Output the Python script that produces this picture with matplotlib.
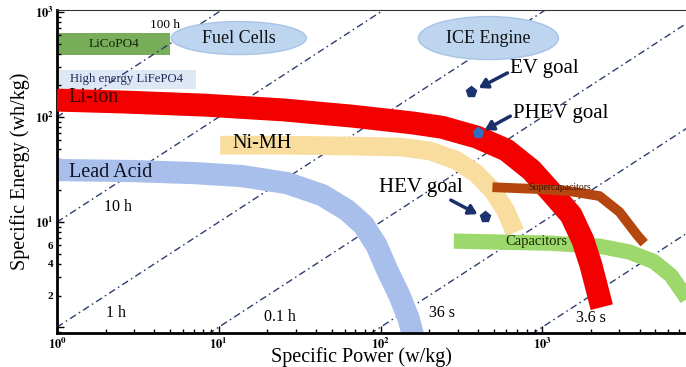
import numpy as np
import matplotlib
matplotlib.use('Agg')
import matplotlib.pyplot as plt
from matplotlib.patches import Ellipse
from matplotlib.ticker import FuncFormatter, LogLocator, NullFormatter

plt.rcParams['font.family'] = ['Liberation Serif', 'DejaVu Serif']
plt.rcParams['mathtext.fontset'] = 'stix'

# band centre lines: specific power (w/kg), specific energy (wh/kg)
liion_p = [1.0, 2.6, 8.1, 25, 67, 157, 240, 394, 601, 857, 1136, 1506, 1785, 2000, 2334]
liion_e = [145, 139, 130, 117, 102, 88, 80, 64.5, 48.5, 31.3, 19.3, 11.7, 6.7, 3.9, 1.55]

nimh_p = [10.2, 24.5, 66, 134, 204, 292, 388, 492, 592, 680]
nimh_e = [54, 54, 53, 51.8, 47.4, 38.9, 29.3, 20.2, 13.0, 8.0]

lead_p = [1.0, 3.0, 7.0, 14.0, 26.5, 43.5, 62, 78.5, 94.5, 110, 131, 149, 162]
lead_e = [31.3, 30.6, 29.3, 27.4, 23.5, 18.1, 13.0, 9.4, 6.0, 3.5, 2.0, 1.22, 0.75]

supercap_p = [492, 970, 1480, 2260, 3000, 3870, 4270]
supercap_e = [21.5, 20.6, 19.7, 17.7, 12.5, 7.5, 6.3]

cap_p = [284, 552, 1118, 2260, 3450, 4910, 6250, 7620, 9280]
cap_e = [6.6, 6.45, 6.3, 5.9, 5.2, 4.2, 3.1, 2.0, 1.17]

# rectangles (power range, energy range)
licopo4_p = [1.0, 5.0]
licopo4_e = [389, 631]
lifepo4_p = [1.0, 7.2]
lifepo4_e = [187, 280]

# goals
goal_names = ['EV goal', 'PHEV goal', 'HEV goal']
goal_p = [362, 398, 440]
goal_e = [173, 70.5, 11.2]
goal_text_p = [635, 662, 98]
goal_text_e = [293, 109, 21.5]
arrow_tail_p = [609, 635, 272]
arrow_tail_e = [263, 102, 16.2]
arrow_head_p = [405, 440, 398]
arrow_head_e = [189, 75, 11.9]

# constant discharge time lines (hours)
times_h = [100, 10, 1, 0.1, 0.01, 0.001]
time_labels = ['100 h', '10 h', '1 h', '0.1 h', '36 s', '3.6 s']
time_label_p = [4.65, 2.4, 2.3, 24.0, 240, 2000]
time_label_e = [752, 13.9, 1.36, 1.24, 1.36, 1.21]

fig = plt.figure(figsize=(6.86, 3.67), dpi=100)
ax = fig.add_axes([57 / 686, 34 / 367, 647 / 686, 323 / 367])
ax.set_xscale('log')
ax.set_yscale('log')
ax.set_xlim(1.0, 1e4)
ax.set_ylim(0.88, 1045)

# time lines
p_span = np.array([1.0, 1e4])
for t in times_h:
    ax.plot(p_span, t * p_span, color='#2c3d6e', lw=1.0,
            linestyle=(0, (5, 2.5, 1.2, 2.5)), zorder=1)
for lab, p, e in zip(time_labels, time_label_p, time_label_e):
    ax.text(p, e, lab, ha='center', va='center',
            fontsize=9.5 if lab == '100 h' else 11.5, zorder=5)

# boxes
ax.fill_between(licopo4_p, licopo4_e[0], licopo4_e[1], color='#78ad5a', lw=0, zorder=0.5)
ax.text(np.sqrt(licopo4_p[0] * licopo4_p[1]), np.sqrt(licopo4_e[0] * licopo4_e[1]),
        'LiCoPO4', ha='center', va='center', fontsize=9.5, color='#15250c', zorder=5)
ax.fill_between(lifepo4_p, lifepo4_e[0], lifepo4_e[1], color='#dde7f6', lw=0, zorder=0.5)
ax.text(np.sqrt(lifepo4_p[0] * lifepo4_p[1]), np.sqrt(lifepo4_e[0] * lifepo4_e[1]),
        'High energy LiFePO4', ha='center', va='center', fontsize=9.2,
        color='#1f2d55', zorder=5)

# bands
ax.plot(lead_p, lead_e, color='#a8bfec', lw=16, solid_capstyle='butt',
        solid_joinstyle='round', zorder=2)
ax.plot(nimh_p, nimh_e, color='#f9dd9e', lw=13.5, solid_capstyle='butt',
        solid_joinstyle='round', zorder=2)
ax.plot(cap_p, cap_e, color='#9dd86c', lw=11, solid_capstyle='butt',
        solid_joinstyle='round', zorder=2)
ax.plot(liion_p, liion_e, color='#f30000', lw=16.5, solid_capstyle='butt',
        solid_joinstyle='round', zorder=3)
ax.plot(supercap_p, supercap_e, color='#b5460f', lw=7, solid_capstyle='butt',
        solid_joinstyle='round', zorder=3)

ax.text(1.68, 155, 'Li-ion', ha='center', va='center', fontsize=14.5, color='#3d0606', zorder=5)
ax.text(18.5, 56.5, 'Ni-MH', ha='center', va='center', fontsize=14.5, color='black', zorder=5)
ax.text(2.15, 29.9, 'Lead Acid', ha='center', va='center', fontsize=14.5, color='#111122', zorder=5)
ax.text(1280, 21.3, 'Supercapacitors', ha='center', va='center', fontsize=7,
        color='#3a1200', zorder=5)
ax.text(915, 6.5, 'Capacitors', ha='center', va='center', fontsize=10.5,
        color='#152a05', zorder=5)

# fuel cells / ICE ellipses
for name, p, e, w, h in [('Fuel Cells', 13.3, 565, 135, 33), ('ICE Engine', 465, 565, 140, 43)]:
    cx, cy = ax.transAxes.inverted().transform(ax.transData.transform((p, e)))
    ax.add_patch(Ellipse((cx, cy), w / 647, h / 323, transform=ax.transAxes,
                         facecolor='#bdd5ef', edgecolor='#a7c4e6', lw=1, zorder=4))
    ax.text(p, e, name, ha='center', va='center', fontsize=13, color='#111111', zorder=5)

# goals
goal_colors = ['#1b3470', '#2f6fc0', '#1b3470']
for i, name in enumerate(goal_names):
    ax.plot(goal_p[i], goal_e[i], marker='p', ms=8, color=goal_colors[i], zorder=6)
    ax.annotate('', xy=(arrow_head_p[i], arrow_head_e[i]),
                xytext=(arrow_tail_p[i], arrow_tail_e[i]),
                arrowprops=dict(arrowstyle='-|>,head_length=0.5,head_width=0.3',
                                lw=2.5, color='#1b2f6b', shrinkA=0, shrinkB=0),
                zorder=6)
    ax.text(goal_text_p[i], goal_text_e[i], name, ha='left', va='center',
            fontsize=15, color='black', zorder=6)

# axes styling
for s in ['left', 'bottom']:
    ax.spines[s].set_linewidth(2)
ax.spines['top'].set_linewidth(0.8)
ax.spines['top'].set_color('#333333')
ax.spines['right'].set_visible(False)

ax.xaxis.set_major_locator(LogLocator(base=10, numticks=10))
ax.xaxis.set_minor_locator(LogLocator(base=10, subs=np.arange(2, 10), numticks=20))
ax.yaxis.set_major_locator(LogLocator(base=10, numticks=10))
ax.yaxis.set_minor_locator(LogLocator(base=10, subs=np.arange(2, 10), numticks=20))
ax.xaxis.set_major_formatter(FuncFormatter(
    lambda v, pos: r'$\mathbf{10^{%d}}$' % round(np.log10(v))))
ax.yaxis.set_major_formatter(FuncFormatter(
    lambda v, pos: r'$\mathbf{10^{%d}}$' % round(np.log10(v)) if v >= 10 else ''))
ax.xaxis.set_minor_formatter(NullFormatter())
ax.yaxis.set_minor_formatter(FuncFormatter(
    lambda v, pos: '%d' % round(v) if round(v) in (2, 4, 6) and v < 10 else ''))
ax.tick_params(which='both', direction='in', width=1, labelsize=9, pad=2.5)
ax.tick_params(which='major', length=5)
ax.tick_params(which='minor', length=3)
ax.tick_params(axis='y', which='minor', labelsize=8)
for lab in ax.get_yticklabels(which='minor'):
    lab.set_fontweight('bold')

ax.set_xlabel('Specific Power (w/kg)', fontsize=14.5)
ax.xaxis.set_label_coords((361 - 57) / 647, -0.045)
ax.set_ylabel('Specific Energy (wh/kg)', fontsize=14.5)
ax.yaxis.set_label_coords(-0.042, 0.5)

fig.savefig('out.png', dpi=100, facecolor='white')
